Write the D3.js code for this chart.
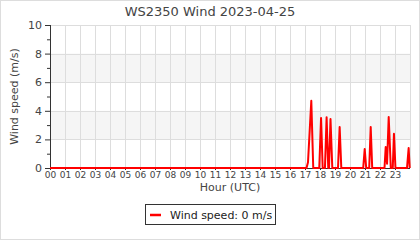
<!DOCTYPE html>
<html>
<head>
<meta charset="utf-8">
<script src="https://cdn.jsdelivr.net/npm/d3@7"></script>
<style>
  body { margin: 0; background: #fff; }
  svg { display: block; font-family: "DejaVu Sans", sans-serif; }
</style>
</head>
<body>
<div id="chart"></div>
<script>
// readings, hour of day (UTC) and wind speed in m/s
var hours  = [0, 17.1, 17.2, 17.42, 17.55, 17.95, 18.07, 18.18, 18.33, 18.44, 18.55, 18.6, 18.7, 18.82,
              19.2, 19.31, 19.42, 20.88, 20.98, 21.08, 21.28, 21.38, 21.48, 22.3, 22.38, 22.47, 22.58,
              22.72, 22.85, 22.93, 23.03, 23.8, 23.91, 23.98];
var speeds = [0, 0, 0.4, 4.7, 0, 0, 3.5, 0, 0, 3.55, 0, 0, 3.43, 0,
              0, 2.87, 0, 0, 1.33, 0, 0, 2.87, 0, 0, 1.47, 0.3, 3.57,
              0, 0, 2.4, 0, 0, 1.4, 0];
var hourTicks = d3.range(0, 24);
var speedTicks = [0, 2, 4, 6, 8, 10];
var title = "WS2350 Wind 2023-04-25";

var W = 420, H = 240;
var margin = {top: 25, right: 10, bottom: 72, left: 50};
var width = W - margin.left - margin.right,
    height = H - margin.top - margin.bottom;

var svg = d3.select('#chart').append('svg')
  .attr('width', W)
  .attr('height', H);

// outer border
svg.append('rect')
  .attr('x', 0.5).attr('y', 0.5)
  .attr('width', W - 1).attr('height', H - 1)
  .attr('fill', '#fff').attr('stroke', '#ddd');

var x = d3.scaleLinear().domain([0, 24]).range([0, width]);
var y = d3.scaleLinear().domain([0, 10]).range([height, 0]);

var g = svg.append('g')
  .attr('transform', 'translate(' + margin.left + ',' + margin.top + ')');

// alternating bands
[[2, 4], [6, 8]].forEach(function(b) {
  g.append('rect')
    .attr('x', 0).attr('width', width)
    .attr('y', y(b[1])).attr('height', y(b[0]) - y(b[1]))
    .attr('fill', '#f5f5f5');
});

// grid
g.selectAll('.vgrid')
  .data(d3.range(1, 25))
  .enter().append('line')
  .attr('x1', function(d) { return Math.round(x(d)) + 0.5; })
  .attr('x2', function(d) { return Math.round(x(d)) + 0.5; })
  .attr('y1', 0).attr('y2', height)
  .attr('stroke', '#ddd');

g.selectAll('.hgrid')
  .data(speedTicks.slice(1))
  .enter().append('line')
  .attr('x1', 0).attr('x2', width)
  .attr('y1', function(d) { return Math.round(y(d)) + 0.5; })
  .attr('y2', function(d) { return Math.round(y(d)) + 0.5; })
  .attr('stroke', '#ddd');

// axes
var yAxis = d3.axisLeft(y).tickValues(speedTicks).tickSize(5).tickPadding(3);
var yMinor = d3.axisLeft(y).tickValues([1, 3, 5, 7, 9]).tickSize(3).tickFormat('');
var xAxis = d3.axisBottom(x).tickValues(hourTicks).tickSize(2).tickPadding(2)
  .tickFormat(function(d) { return d3.format('02d')(d); });

var ya = g.append('g').call(yAxis);
g.append('g').call(yMinor).select('.domain').remove();
var xa = g.append('g').attr('transform', 'translate(0,' + height + ')').call(xAxis);

ya.selectAll('text').attr('font-size', 11).attr('fill', '#444').attr('font-family', '"DejaVu Sans"');
ya.selectAll('line').attr('stroke', '#333');
ya.select('.domain').attr('stroke', '#333').attr('d', 'M0.5,0V' + (height + 0.5));
g.selectAll('line').filter(function() { return this.parentNode.classList && this.parentNode.classList.contains('tick'); })
  .attr('stroke', '#333');
xa.selectAll('text').attr('font-size', 9).attr('fill', '#444').attr('font-family', '"DejaVu Sans"');
xa.select('.domain').attr('stroke', '#333').attr('d', 'M0,0.5H' + width);

// wind line
var line = d3.line()
  .x(function(d, i) { return x(hours[i]); })
  .y(function(d) { return y(d); });

g.append('path')
  .datum(speeds)
  .attr('d', line)
  .attr('fill', 'none')
  .attr('stroke', '#f00')
  .attr('stroke-width', 2)
  .attr('stroke-linejoin', 'round');

// title and labels
svg.append('text')
  .attr('x', W / 2).attr('y', 16)
  .attr('text-anchor', 'middle')
  .attr('font-size', 13).attr('fill', '#444')
  .text(title);

svg.append('text')
  .attr('transform', 'translate(18,' + (margin.top + height / 2) + ') rotate(-90)')
  .attr('text-anchor', 'middle')
  .attr('font-size', 11).attr('fill', '#444')
  .text('Wind speed (m/s)');

svg.append('text')
  .attr('x', margin.left + width / 2).attr('y', 191)
  .attr('text-anchor', 'middle')
  .attr('font-size', 11).attr('fill', '#444')
  .text('Hour (UTC)');

// legend
var lg = svg.append('g').attr('transform', 'translate(145,204)');
lg.append('rect')
  .attr('x', 0.5).attr('y', 0.5).attr('width', 130).attr('height', 20)
  .attr('fill', '#fff').attr('stroke', '#333');
lg.append('line')
  .attr('x1', 5).attr('x2', 16).attr('y1', 11).attr('y2', 11)
  .attr('stroke', '#f00').attr('stroke-width', 2.5);
lg.append('text')
  .attr('x', 25).attr('y', 15)
  .attr('font-size', 11).attr('fill', '#222')
  .text('Wind speed: 0 m/s');
</script>
</body>
</html>
